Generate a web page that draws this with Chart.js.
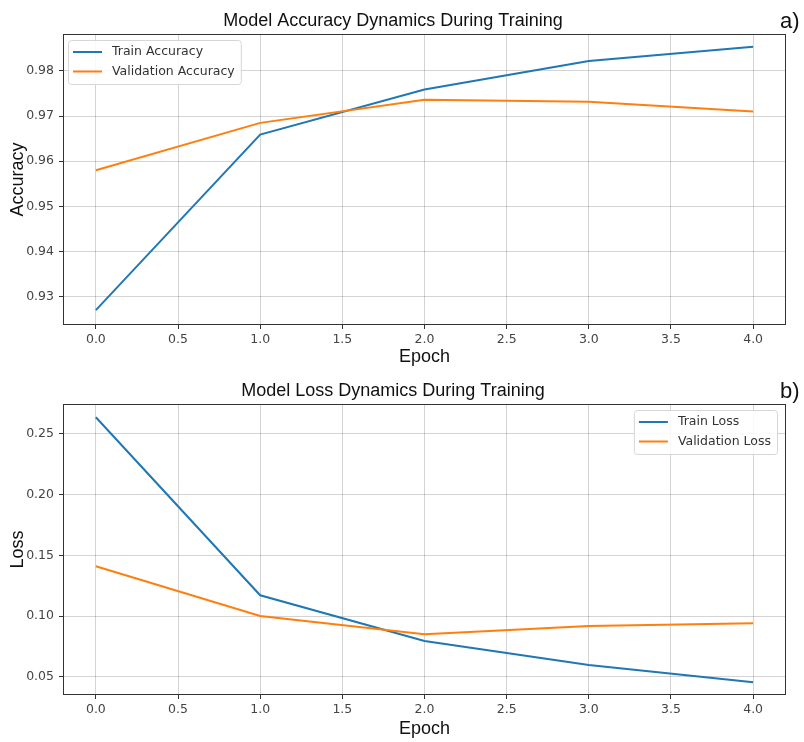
<!DOCTYPE html>
<html lang="en">
<head>
<meta charset="UTF-8">
<title>Model Training Dynamics</title>
<style>
    body { margin: 0; background: #fff; }
    .panel { position: relative; width: 804px; }
</style>
</head>
<body>
<div class="panel" style="height: 370px"><canvas id="acc-chart"></canvas></div>
<div class="panel" style="height: 372px"><canvas id="loss-chart"></canvas></div>

<script src="https://cdn.jsdelivr.net/npm/chart.js"></script>
<script>
const epochs = [0, 1, 2, 3, 4];
const trainAcc = [0.9270, 0.9659, 0.9759, 0.9822, 0.9854];
const valAcc = [0.9580, 0.9685, 0.9736, 0.9732, 0.9710];
const trainLoss = [0.2638, 0.1171, 0.0794, 0.0596, 0.0454];
const valLoss = [0.1410, 0.1000, 0.0849, 0.0918, 0.0940];
const epochTicks = [0, 0.5, 1, 1.5, 2, 2.5, 3, 3.5, 4];
const accTicks = [0.93, 0.94, 0.95, 0.96, 0.97, 0.98];
const lossTicks = [0.05, 0.10, 0.15, 0.20, 0.25];

const BLUE = '#1f77b4';
const ORANGE = '#ff7f0e';
const sansFont = '"Liberation Sans", Arial, sans-serif';
const tickFont = { family: '"DejaVu Sans", sans-serif', size: 12.5 };
const labelFont = { family: sansFont, size: 18 };

// spines, legend inside the axes and the a)/b) tag
const panelPlugin = {
    id: 'panel',
    afterDatasetsDraw(chart, args, opts) {
        const { ctx, chartArea: a } = chart;
        ctx.save();
        ctx.strokeStyle = '#333';
        ctx.lineWidth = 1;
        ctx.strokeRect(Math.round(a.left) + 0.5, Math.round(a.top) + 0.5,
            Math.round(a.right - a.left) - 1, Math.round(a.bottom - a.top) - 1);

        ctx.font = '12.5px "DejaVu Sans", sans-serif';
        const items = chart.data.datasets;
        const textW = Math.max(...items.map(d => ctx.measureText(d.label).width));
        const w = 5 + 29 + 10 + textW + 6;
        const h = 2 * 19.5 + 5;
        const x = opts.corner === 'right' ? a.right - 9 - w : a.left + 5;
        const y = a.top + 6;
        ctx.fillStyle = 'rgba(255,255,255,0.85)';
        ctx.strokeStyle = '#d6d6d6';
        ctx.beginPath();
        ctx.roundRect(x + 0.5, y + 0.5, w, h, 3);
        ctx.fill();
        ctx.stroke();
        items.forEach((d, i) => {
            const ry = y + 12 + i * 19.5;
            ctx.strokeStyle = d.borderColor;
            ctx.lineWidth = 2;
            ctx.beginPath();
            ctx.moveTo(x + 5, ry);
            ctx.lineTo(x + 34, ry);
            ctx.stroke();
            ctx.fillStyle = '#333';
            ctx.textBaseline = 'middle';
            ctx.fillText(d.label, x + 44, ry);
        });

        ctx.font = '22px ' + sansFont;
        ctx.fillStyle = '#111';
        ctx.textBaseline = 'alphabetic';
        ctx.fillText(opts.tag, 780, 28);
        ctx.restore();
    }
};

function series(label, values, color, order) {
    return {
        label: label,
        data: epochs.map((e, i) => ({ x: e, y: values[i] })),
        borderColor: color,
        backgroundColor: color,
        borderWidth: 2,
        pointRadius: 0,
        tension: 0,
        order: order
    };
}

function makeChart(id, title, yTitle, yTicks, yMin, yMax, datasets, tag, corner) {
    return new Chart(document.getElementById(id), {
        type: 'line',
        data: { datasets: datasets },
        plugins: [panelPlugin],
        options: {
            responsive: true,
            maintainAspectRatio: false,
            animation: false,
            layout: { padding: { left: 0, right: 18, top: 0, bottom: 0 } },
            plugins: {
                legend: { display: false },
                tooltip: { enabled: false },
                title: {
                    display: true,
                    text: title,
                    color: '#111',
                    font: { family: sansFont, size: 18, weight: 'normal' },
                    padding: { top: 10, bottom: 2.4 }
                },
                panel: { tag: tag, corner: corner }
            },
            scales: {
                x: {
                    type: 'linear',
                    min: -0.2,
                    max: 4.2,
                    afterBuildTicks: s => { s.ticks = epochTicks.map(v => ({ value: v })); },
                    afterFit: s => { s.height = s.chart.height - 325; },
                    ticks: { callback: v => v.toFixed(1), font: tickFont, color: '#444', padding: 3, maxRotation: 0, autoSkip: false },
                    grid: { color: 'rgba(0,0,0,0.17)', tickColor: '#333', tickLength: 4 },
                    border: { display: false },
                    title: { display: true, text: 'Epoch', color: '#111', font: labelFont, padding: { top: 0, bottom: 2.4 } }
                },
                y: {
                    min: yMin,
                    max: yMax,
                    afterBuildTicks: s => { s.ticks = yTicks.map(v => ({ value: v })); },
                    afterFit: s => { s.width = 63; },
                    ticks: { callback: v => v.toFixed(2), font: tickFont, color: '#444', padding: 5, autoSkip: false },
                    grid: { color: 'rgba(0,0,0,0.17)', tickColor: '#333', tickLength: 4 },
                    border: { display: false },
                    title: { display: true, text: yTitle, color: '#111', font: labelFont, padding: { top: 7, bottom: 0 } }
                }
            }
        }
    });
}

makeChart('acc-chart', 'Model Accuracy Dynamics During Training', 'Accuracy', accTicks, 0.9237, 0.9882, [
    series('Train Accuracy', trainAcc, BLUE, 1),
    series('Validation Accuracy', valAcc, ORANGE, 0)
], 'a)', 'left');

makeChart('loss-chart', 'Model Loss Dynamics During Training', 'Loss', lossTicks, 0.0349, 0.2747, [
    series('Train Loss', trainLoss, BLUE, 1),
    series('Validation Loss', valLoss, ORANGE, 0)
], 'b)', 'right');
</script>
</body>
</html>
